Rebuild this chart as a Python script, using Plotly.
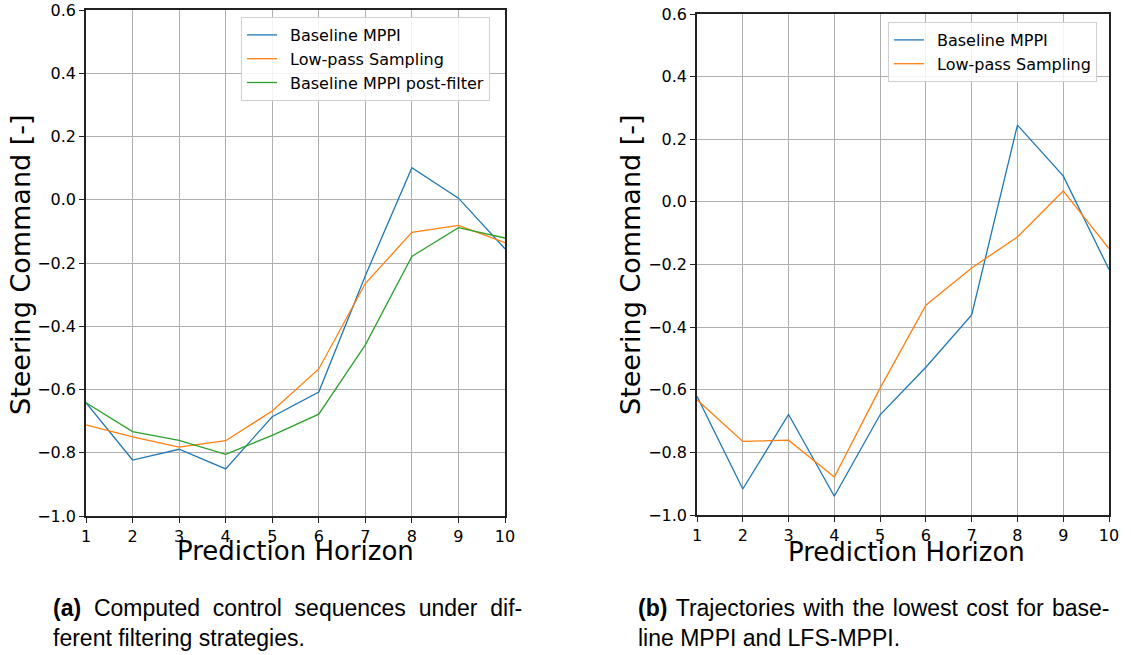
import plotly.graph_objects as go

W, H = 1131, 655

horizon = [1, 2, 3, 4, 5, 6, 7, 8, 9, 10]

# (a) Computed control sequences
a_baseline = [-0.642, -0.823, -0.789, -0.851, -0.686, -0.608, -0.240, 0.101, 0.005, -0.155]
a_lowpass = [-0.712, -0.750, -0.782, -0.762, -0.668, -0.535, -0.265, -0.103, -0.081, -0.136]
a_postfilter = [-0.642, -0.733, -0.761, -0.805, -0.745, -0.678, -0.459, -0.179, -0.088, -0.121]

# (b) Lowest-cost trajectories
b_baseline = [-0.621, -0.917, -0.679, -0.940, -0.680, -0.528, -0.361, 0.245, 0.083, -0.216]
b_lowpass = [-0.632, -0.765, -0.761, -0.879, -0.595, -0.330, -0.211, -0.112, 0.035, -0.149]

names = ["Baseline MPPI", "Low-pass Sampling", "Baseline MPPI post-filter"]
colors = ["#1f77b4", "#ff7f0e", "#2ca02c"]

x_title = "Prediction Horizon"
y_title = "Steering Command [-]"
cap_a = ["<b>(a)</b> Computed control sequences under dif-", "ferent filtering strategies."]
cap_b = ["<b>(b)</b> Trajectories with the lowest cost for base-", "line MPPI and LFS-MPPI."]


def px_x(x):
    return x / W


def px_y(y):
    return 1 - y / H


FONT = "DejaVu Sans"
fig = go.Figure()

for vals, name, col in zip([a_baseline, a_lowpass, a_postfilter], names, colors):
    fig.add_trace(go.Scatter(x=horizon, y=vals, mode="lines", name="\u2002" + name,
                             line=dict(color=col, width=1.3),
                             xaxis="x", yaxis="y", legend="legend"))
for vals, name, col in zip([b_baseline, b_lowpass], names[:2], colors[:2]):
    fig.add_trace(go.Scatter(x=horizon, y=vals, mode="lines", name="\u2002" + name,
                             line=dict(color=col, width=1.3),
                             xaxis="x2", yaxis="y2", legend="legend2"))

axis_common = dict(
    showgrid=True, gridcolor="#b0b0b0", gridwidth=1,
    showline=True, linecolor="#222222", linewidth=1.6, mirror=True,
    ticks="outside", ticklen=5, tickwidth=1.2, tickcolor="#222222",
    tickfont=dict(family=FONT, size=16, color="black"),
    zeroline=False, automargin=False,
)

xa = dict(axis_common, range=[1, 10], tickmode="array", tickvals=horizon, ticktext=[str(v) for v in horizon])
ya = dict(axis_common, range=[-1.0, 0.6], tickmode="linear", tick0=-1.0, dtick=0.2, tickformat=".1f")

legend_common = dict(xanchor="left", yanchor="top",
                     bgcolor="rgba(255,255,255,0.85)", bordercolor="#d0d0d0", borderwidth=1,
                     font=dict(family=FONT, size=16, color="black"))

fig.update_layout(
    width=W, height=H,
    margin=dict(l=0, r=0, t=0, b=0, autoexpand=False),
    paper_bgcolor="white", plot_bgcolor="white",
    font=dict(family=FONT, color="black"),
    xaxis=dict(xa, domain=[px_x(86), px_x(505)], anchor="y"),
    yaxis=dict(ya, domain=[px_y(516), px_y(10)], anchor="x"),
    xaxis2=dict(xa, domain=[px_x(697), px_x(1109)], anchor="y2"),
    yaxis2=dict(ya, domain=[px_y(515), px_y(14)], anchor="x2"),
    legend=dict(legend_common, x=px_x(241), y=px_y(17)),
    legend2=dict(legend_common, x=px_x(888), y=px_y(22)),
    showlegend=True,
)

ann = []
# axis titles
for cx, cy in [(295, 551), (906, 552)]:
    ann.append(dict(text=x_title, x=px_x(cx), y=px_y(cy), xref="paper", yref="paper",
                    xanchor="center", yanchor="middle", showarrow=False,
                    font=dict(family=FONT, size=26, color="black")))
for cx, cy in [(20, 265), (630, 265)]:
    ann.append(dict(text=y_title, x=px_x(cx), y=px_y(cy), xref="paper", yref="paper",
                    xanchor="center", yanchor="middle", showarrow=False, textangle=-90,
                    font=dict(family=FONT, size=27, color="black")))
# captions (first lines are justified in the reference: widen the spaces)
CAP_FONT = "Liberation Sans"
for lines, x0, sp in [(cap_a, 51, "\u00a0\u00a0"), (cap_b, 636, "\u00a0\u200a")]:
    for i, (txt, cy) in enumerate(zip(lines, [608, 638])):
        shown = txt.replace(" ", sp) if i == 0 else txt
        ann.append(dict(text=shown, x=px_x(x0), y=px_y(cy), xref="paper", yref="paper",
                        xanchor="left", yanchor="middle", showarrow=False,
                        font=dict(family=CAP_FONT, size=23, color="black")))
fig.update_layout(annotations=ann)

fig.write_html("out.html")
